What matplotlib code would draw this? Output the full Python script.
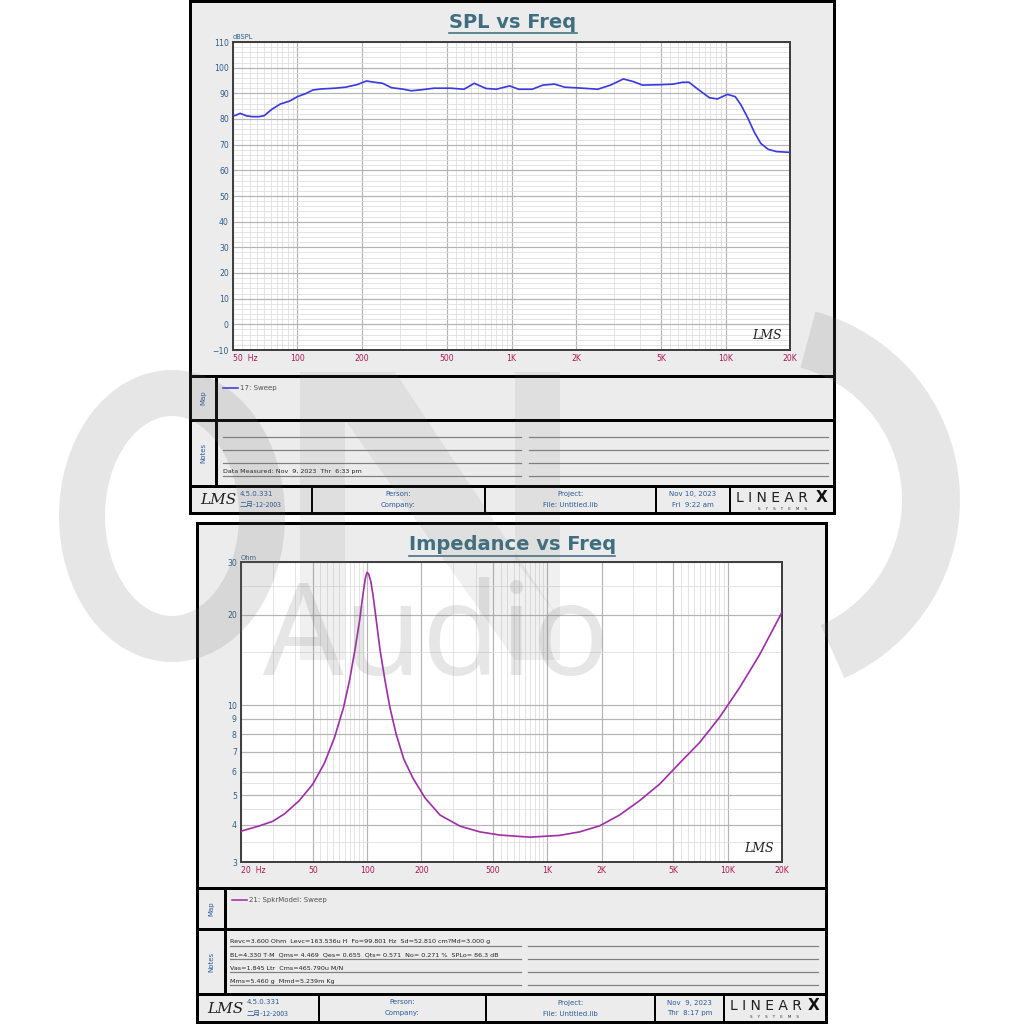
import numpy as np
import matplotlib
matplotlib.use("Agg")
import matplotlib.pyplot as plt
from matplotlib.patches import Rectangle, Ellipse, Wedge, Polygon
from matplotlib.ticker import FixedLocator, FixedFormatter, NullFormatter

# ---------------- data ----------------
spl_freq = [50, 51, 54, 58, 62, 66, 70, 76, 83, 92, 100, 110, 118, 129, 150, 168,
            190, 210, 230, 250, 275, 313, 340, 380, 435, 520, 600, 670, 760, 850,
            980, 1080, 1250, 1400, 1590, 1770, 2150, 2530, 2900, 3330, 3700, 4090,
            5040, 5700, 6300, 6750, 7350, 8400, 9150, 10200, 11100, 11800, 12700,
            13600, 14600, 15800, 17300, 20000]
spl_db = [81.5, 81.3, 82.2, 81.2, 80.9, 80.9, 81.3, 83.8, 85.8, 87.0, 88.7, 90.0,
          91.3, 91.7, 92.0, 92.4, 93.4, 94.8, 94.3, 93.9, 92.2, 91.6, 91.0, 91.4,
          92.0, 92.0, 91.6, 93.9, 91.9, 91.6, 92.9, 91.6, 91.6, 93.2, 93.6, 92.4,
          92.0, 91.6, 93.2, 95.6, 94.6, 93.2, 93.4, 93.6, 94.3, 94.3, 91.9, 88.3,
          87.8, 89.6, 88.7, 85.5, 80.4, 75.0, 70.5, 68.2, 67.3, 67.0]

imp_freq = [20, 25, 30, 35, 42, 50, 58, 66, 74, 80, 86, 91, 95, 98, 100, 102,
            105, 108, 112, 118, 126, 134, 145, 160, 180, 210, 254, 328, 422, 544,
            800, 1170, 1510, 1950, 2510, 3240, 4200, 5400, 6980, 9000, 11600,
            15000, 20000]
imp_ohm = [3.80, 3.95, 4.10, 4.35, 4.80, 5.45, 6.40, 7.80, 9.80, 12.1, 15.5,
           19.2, 23.5, 26.6, 27.7, 27.4, 25.8, 23.2, 19.6, 15.3, 12.0, 9.8, 8.0,
           6.6, 5.7, 4.9, 4.3, 3.95, 3.78, 3.69, 3.63, 3.68, 3.78, 3.96, 4.3,
           4.8, 5.46, 6.4, 7.5, 9.1, 11.4, 14.7, 20.4]

spl_xticks = [50, 100, 200, 500, 1000, 2000, 5000, 10000, 20000]
spl_xlabels = ["50  Hz", "100", "200", "500", "1K", "2K", "5K", "10K", "20K"]
spl_yticks = list(range(-10, 111, 10))

imp_xticks = [20, 50, 100, 200, 500, 1000, 2000, 5000, 10000, 20000]
imp_xlabels = ["20  Hz", "50", "100", "200", "500", "1K", "2K", "5K", "10K", "20K"]
imp_yticks = [3, 4, 5, 6, 7, 8, 9, 10, 20, 30]

notes_top = ["", "", "", "Data Measured: Nov  9, 2023  Thr  6:33 pm"]
notes_bot = ["Revc=3.600 Ohm  Levc=163.536u H  Fo=99.801 Hz  Sd=52.810 cm?Md=3.000 g",
             "BL=4.330 T\u00b7M  Qms= 4.469  Qes= 0.655  Qts= 0.571  No= 0.271 %  SPLo= 86.3 dB",
             "Vas=1.845 Ltr  Cms=465.790u M/N",
             "Mms=5.460 g  Mmd=5.239m Kg"]

# ---------------- style ----------------
W = H = 1024
FAM = ['DejaVu Sans', 'Noto Sans CJK SC']
plt.rcParams['font.family'] = FAM
PANEL = '#ececec'
TITLE_C = '#3e6e80'
YLAB_C = '#2d5d8c'
XLAB_C = '#b01852'
TXT_C = '#2a5a98'
GMIN = '#dedede'
GMAJ = '#b4b4b4'

fig = plt.figure(figsize=(W / 100, H / 100), dpi=100, facecolor='white')


def rect(x0, y0, x1, y1):
    return [x0 / W, 1 - y1 / H, (x1 - x0) / W, (y1 - y0) / H]


bg = fig.add_axes([0, 0, 1, 1], zorder=0)
bg.set_xlim(0, W)
bg.set_ylim(H, 0)
bg.axis('off')

PX = 0.72  # points per pixel


def panel(x0, y0, x1, y1, lcol, map_y, notes_y, foot_y, foot_div, title, title_y,
          ul, legend_txt, legend_col, notes, note_ys, note_lx, note_rx, foot):
    bg.add_patch(Rectangle((x0, y0), x1 - x0, y1 - y0, facecolor=PANEL,
                           edgecolor='black', lw=3 * PX, zorder=1))
    for yy in (map_y, notes_y, foot_y):
        bg.plot([x0, x1], [yy, yy], color='black', lw=3 * PX, zorder=2)
    bg.plot([lcol, lcol], [map_y, foot_y], color='black', lw=3 * PX, zorder=2)
    for xd in foot_div:
        bg.plot([xd, xd], [foot_y, y1], color='black', lw=2 * PX, zorder=2)
    # title
    bg.text((x0 + x1) / 2 + 1, title_y, title, ha='center', va='center',
            fontsize=14, fontweight='bold', color=TITLE_C, zorder=3)
    bg.plot(ul, [title_y + 11, title_y + 11], color=TITLE_C, lw=1.6 * PX, zorder=3)
    # side labels
    bg.text((x0 + lcol) / 2, (map_y + notes_y) / 2, "Map", rotation=90,
            ha='center', va='center', fontsize=5, color=TXT_C, zorder=3)
    bg.text((x0 + lcol) / 2, (notes_y + foot_y) / 2, "Notes", rotation=90,
            ha='center', va='center', fontsize=5, color=TXT_C, zorder=3)
    # legend
    ly = map_y + 12
    bg.plot([lcol + 7, lcol + 22], [ly, ly], color=legend_col, lw=1.6 * PX, zorder=3)
    bg.text(lcol + 24, ly, legend_txt, ha='left', va='center', fontsize=5,
            color='#505050', zorder=3)
    # notes lines
    for txt, yy in zip(notes, note_ys):
        bg.plot(note_lx, [yy, yy], color='#808080', lw=1.2 * PX, zorder=2)
        bg.plot(note_rx, [yy, yy], color='#808080', lw=1.2 * PX, zorder=2)
        if txt:
            bg.text(note_lx[0], yy - 1.5, txt, ha='left', va='bottom', fontsize=4.6,
                    color='#222222', zorder=3)
    # footer
    fy0, fy1 = foot_y, y1
    fc = (fy0 + fy1) / 2
    bg.text(x0 + 10, fc + 1, "LMS", ha='left', va='center', fontsize=11,
            fontstyle='italic', color='#202020', family=['DejaVu Serif'],
            fontweight='light', zorder=3)
    (ver, dte), (p1, p2), (q1, q2), (d1, d2) = foot
    bg.text(x0 + 50, fc - 5.5, ver, ha='left', va='center', fontsize=5,
            color=TXT_C, zorder=3)
    bg.text(x0 + 50, fc + 5.5, dte, ha='left', va='center', fontsize=5,
            color=TXT_C, zorder=3, family=['Noto Sans CJK SC', 'DejaVu Sans'])
    cells = [foot_div[0], foot_div[1], foot_div[2], foot_div[3]]
    for (a, b), xa, xb in zip([(p1, p2), (q1, q2), (d1, d2)],
                              cells[:-1], cells[1:]):
        cx = (xa + xb) / 2
        bg.text(cx, fc - 5.5, a, ha='center', va='center', fontsize=5,
                color=TXT_C, zorder=3)
        bg.text(cx, fc + 5.5, b, ha='center', va='center', fontsize=5,
                color=TXT_C, zorder=3)
    lx0 = foot_div[3] + 6
    bg.text(lx0, fc - 2, "L I N E A R", ha='left', va='center', fontsize=10,
            color='#202020', family=['DejaVu Sans'], fontweight='normal',
            zorder=3)
    bg.text(x1 - 12, fc - 2, "X", ha='center', va='center', fontsize=11,
            color='#111111', fontweight='bold', zorder=3)
    bg.text((foot_div[3] + x1) / 2, fc + 9, "S    Y    S    T    E    M    S",
            ha='center', va='center', fontsize=3, color='#303030', zorder=3)


panel(190, 1, 834, 513, 216, 376, 420, 486, [312, 485, 656, 730],
      "SPL vs Freq", 22, [449, 577], "17: Sweep", '#3a3ae0',
      notes_top, [436.5, 450, 463, 476], [223, 521], [529, 828],
      [("4.5.0.331", "二月-12-2003"), ("Person:", "Company:"),
       ("Project:", "File: Untitled.lib"), ("Nov 10, 2023", "Fri  9:22 am")])

panel(197, 523, 826, 1022, 225, 888, 929, 994, [319, 486, 655, 724],
      "Impedance vs Freq", 545, [409, 615], "21: SpkrModel: Sweep", '#a030a8',
      notes_bot, [946, 959, 972, 985], [230, 521], [528, 818],
      [("4.5.0.331", "二月-12-2003"), ("Person:", "Company:"),
       ("Project:", "File: Untitled.lib"), ("Nov  9, 2023", "Thr  8:17 pm")])


def log_grid(ax, lo, hi):
    minors, majors = [], []
    for d in range(0, 6):
        for k in range(1, 10):
            v = k * 10 ** d
            if lo <= v <= hi:
                (majors if k in (1, 2, 5) else minors).append(v)
            h = (k + 0.5) * 10 ** d
            if lo <= h <= hi and k >= 5:
                minors.append(h)
    for v in minors:
        ax.axvline(v, color=GMIN, lw=0.8 * PX, zorder=0)
    for v in majors:
        ax.axvline(v, color=GMAJ, lw=1.2 * PX, zorder=0)


def style_axes(ax, unit):
    for s in ax.spines.values():
        s.set_color('#404040')
        s.set_linewidth(2 * PX)
    ax.tick_params(axis='both', length=0, labelsize=5.6)
    ax.tick_params(axis='x', colors=XLAB_C, pad=3)
    ax.tick_params(axis='y', colors=YLAB_C, pad=3)
    ax.text(0.0, 1.005, unit, transform=ax.transAxes, fontsize=4.8,
            color=YLAB_C, ha='left', va='bottom')
    ax.text(0.985, 0.025, "LMS", transform=ax.transAxes, fontsize=9,
            fontstyle='italic', family=['DejaVu Serif'], color='#202020',
            ha='right', va='bottom')


# ---------------- SPL axes ----------------
ax1 = fig.add_axes(rect(233, 42, 790, 350), zorder=2)
ax1.set_facecolor('white')
ax1.set_xscale('log')
ax1.set_xlim(50, 20000)
ax1.set_ylim(-10, 110)
log_grid(ax1, 50, 20000)
for v in range(-10, 111, 2):
    ax1.axhline(v, color=GMAJ if v % 10 == 0 else GMIN,
                lw=(1.2 if v % 10 == 0 else 0.8) * PX, zorder=0)
ax1.plot(spl_freq, spl_db, color='#3a3ae0', lw=1.7 * PX, zorder=3)
ax1.xaxis.set_major_locator(FixedLocator(spl_xticks))
ax1.xaxis.set_major_formatter(FixedFormatter(spl_xlabels))
ax1.xaxis.set_minor_locator(FixedLocator([]))
ax1.xaxis.set_minor_formatter(NullFormatter())
ax1.set_yticks(spl_yticks)
style_axes(ax1, "dBSPL")
lbl = ax1.get_xticklabels()
lbl[0].set_horizontalalignment('left')

# ---------------- Impedance axes ----------------
ax2 = fig.add_axes(rect(241, 562, 782, 862), zorder=2)
ax2.set_facecolor('white')
ax2.set_xscale('log')
ax2.set_yscale('log')
ax2.set_xlim(20, 20000)
ax2.set_ylim(3, 30)
log_grid(ax2, 20, 20000)
for v in [3, 4, 5, 6, 7, 8, 9, 10, 20, 30]:
    ax2.axhline(v, color=GMAJ, lw=1.2 * PX, zorder=0)
for v in [3.5, 4.5, 5.5, 15, 25]:
    ax2.axhline(v, color=GMIN, lw=0.8 * PX, zorder=0)
ax2.plot(imp_freq, imp_ohm, color='#a030a8', lw=1.7 * PX, zorder=3)
ax2.xaxis.set_major_locator(FixedLocator(imp_xticks))
ax2.xaxis.set_major_formatter(FixedFormatter(imp_xlabels))
ax2.xaxis.set_minor_locator(FixedLocator([]))
ax2.xaxis.set_minor_formatter(NullFormatter())
ax2.yaxis.set_major_locator(FixedLocator(imp_yticks))
ax2.yaxis.set_major_formatter(FixedFormatter([str(v) for v in imp_yticks]))
ax2.yaxis.set_minor_locator(FixedLocator([]))
ax2.yaxis.set_minor_formatter(NullFormatter())
style_axes(ax2, "Ohm")
lbl = ax2.get_xticklabels()
lbl[0].set_horizontalalignment('left')

# ---------------- watermark overlay ----------------
wm = fig.add_axes([0, 0, 1, 1], zorder=10)
wm.set_xlim(0, W)
wm.set_ylim(H, 0)
wm.axis('off')
WC = '#707070'
WA = 0.17
wm.add_patch(Ellipse((172, 516), 180, 246, fill=False, edgecolor=WC,
                     lw=46 * PX, alpha=WA))
wm.add_patch(Polygon([[300, 372], [345, 372], [345, 660], [300, 660]],
                     facecolor=WC, edgecolor='none', alpha=WA * 0.6))
wm.add_patch(Polygon([[345, 372], [395, 372], [560, 620], [560, 660], [515, 660], [345, 420]],
                     facecolor=WC, edgecolor='none', alpha=WA * 0.6))
wm.add_patch(Polygon([[515, 372], [560, 372], [560, 620], [515, 560]],
                     facecolor=WC, edgecolor='none', alpha=WA * 0.6))
wm.add_patch(Wedge((765, 500), 195, -75, 66, width=58, facecolor=WC,
                   edgecolor='none', alpha=WA))
wm.text(436, 642, "Audio", ha='center', va='center', fontsize=92,
        color=WC, alpha=WA, family=['Open Sans'])

fig.savefig("out.png", dpi=100, facecolor='white')
